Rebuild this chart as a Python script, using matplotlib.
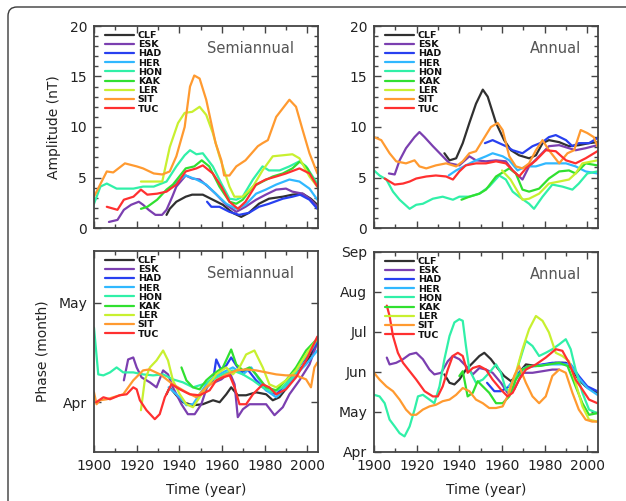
import matplotlib
matplotlib.use("Agg")
import matplotlib.pyplot as plt
from matplotlib.patches import FancyBboxPatch
from matplotlib.ticker import MultipleLocator, FixedLocator
import matplotlib.transforms as mtransforms

stations = ["CLF", "ESK", "HAD", "HER", "HON", "KAK", "LER", "SIT", "TUC"]
colors = ["#303030", "#7b3fb0", "#2840f0", "#30b8ff", "#30f0a8",
          "#30e030", "#c8f030", "#ff9a30", "#ff3030"]

# ---------------- Semiannual amplitude (nT) ----------------
sa_amp_years = {
    "CLF": [1934, 1935.5, 1938.6, 1943, 1946, 1951, 1955.7, 1960.4, 1965, 1969, 1972.6, 1977.3, 1982, 1988.5, 1993, 1997.8, 2001.6, 2004.7],
    "ESK": [1907, 1911, 1914, 1917.4, 1921, 1923, 1925.6, 1928.8, 1931.9, 1934, 1936.7, 1938.6, 1943, 1946, 1949.5, 1953.4, 1957, 1962, 1966.7, 1971, 1976, 1980.5, 1985.4, 1990, 1993, 1997.8, 2001.6, 2004.7],
    "HAD": [1953, 1955, 1958.8, 1963.5, 1968, 1972.6, 1977.3, 1982, 1988.5, 1993, 1996.6, 2001, 2004.7],
    "HER": [1935, 1939, 1943, 1948, 1952.6, 1957, 1962, 1966.7, 1971, 1976, 1980.5, 1985.4, 1991.6, 1996.3, 2001, 2004.7],
    "HON": [1900, 1903, 1906, 1910.6, 1918.5, 1923, 1928, 1934, 1938.6, 1942.5, 1945, 1948, 1951, 1955.7, 1959.7, 1963.5, 1966.7, 1969.7, 1974.5, 1979, 1982, 1987, 1991.6, 1996.3, 1999.4, 2004.7],
    "KAK": [1922, 1925, 1929.6, 1934, 1937, 1940, 1943, 1947, 1950.5, 1954, 1958.8, 1963.5, 1966.7, 1969.7, 1974.5, 1979, 1983.8, 1988.5, 1993, 1996.6, 2000, 2004.7],
    "LER": [1922, 1932, 1935.5, 1939.4, 1942.5, 1946, 1949.5, 1952.6, 1955.7, 1958.8, 1963.5, 1965.8, 1969.7, 1974.5, 1979, 1983.8, 1988.5, 1993, 1996.3, 2001, 2004.7],
    "SIT": [1900, 1906, 1909, 1914.5, 1920, 1923, 1928, 1932, 1935.5, 1938.6, 1942.5, 1945, 1947, 1949.5, 1952.6, 1957, 1959.7, 1961, 1963.5, 1966.7, 1971, 1976.8, 1979, 1981.5, 1985.4, 1991.6, 1994.7, 1997.8, 2001, 2004.7],
    "TUC": [1906, 1911, 1914, 1918.5, 1922, 1925, 1929.6, 1934, 1938.6, 1943, 1948, 1951, 1955.7, 1959.7, 1963.5, 1967.5, 1971, 1976, 1980.5, 1985.4, 1990, 1996.3, 2001, 2004.7],
}
sa_amp_vals = {
    "CLF": [1.3, 1.9, 2.6, 3.1, 3.3, 3.3, 2.8, 2.3, 1.5, 1.1, 1.5, 2.4, 2.9, 3.1, 3.3, 3.4, 2.9, 2.3],
    "ESK": [0.6, 0.8, 1.8, 2.3, 2.6, 2.3, 1.8, 1.3, 1.3, 1.8, 3.1, 4.1, 5.2, 4.9, 4.8, 4.1, 3.4, 2.3, 1.6, 2.1, 2.8, 3.3, 3.8, 3.9, 3.6, 3.4, 2.8, 2.1],
    "HAD": [2.6, 2.1, 2.1, 1.6, 1.3, 1.5, 2.1, 2.4, 2.9, 3.1, 3.3, 2.8, 1.9],
    "HER": [3.8, 4.6, 5.2, 4.8, 4.3, 3.4, 2.4, 1.9, 2.3, 3.4, 3.8, 4.3, 4.8, 4.6, 3.9, 2.8],
    "HON": [2.4, 4.1, 4.4, 3.9, 3.9, 4.1, 4.1, 4.6, 6.1, 7.2, 7.7, 7.3, 7.4, 6.1, 4.4, 2.9, 2.8, 3.1, 4.8, 6.1, 5.7, 5.7, 6.1, 6.6, 6.1, 4.4],
    "KAK": [1.9, 2.1, 2.8, 3.8, 4.3, 5.1, 5.9, 6.1, 6.7, 6.1, 4.1, 2.6, 2.4, 2.8, 4.1, 4.6, 5.1, 5.4, 5.9, 6.6, 5.9, 4.1],
    "LER": [4.6, 4.6, 8.0, 10.4, 11.4, 11.5, 12.0, 11.2, 9.4, 7.1, 4.1, 3.1, 3.1, 4.1, 5.7, 7.1, 7.2, 7.3, 6.9, 5.1, 4.1],
    "SIT": [3.1, 5.6, 5.5, 6.4, 6.1, 5.9, 5.4, 5.3, 5.6, 7.1, 10.0, 14.0, 15.1, 14.8, 12.7, 8.4, 6.7, 5.2, 5.2, 6.1, 6.7, 8.1, 8.4, 8.7, 11.0, 12.7, 12.0, 9.7, 7.4, 5.4],
    "TUC": [2.1, 1.8, 2.8, 3.1, 3.8, 3.3, 3.4, 3.6, 4.3, 5.6, 5.9, 6.2, 5.4, 4.1, 2.6, 1.9, 2.6, 4.3, 4.8, 5.1, 5.4, 5.9, 5.4, 4.1],
}

# ---------------- Annual amplitude (nT) ----------------
an_amp_years = {
    "CLF": [1933, 1935.4, 1938.5, 1941.6, 1944.7, 1947.8, 1951, 1953.3, 1957.2, 1961, 1964.2, 1968, 1972.7, 1975.9, 1979, 1982, 1986.8, 1991.4, 1996, 2000.8, 2004.7],
    "ESK": [1907, 1909.7, 1912, 1915, 1919, 1921.3, 1923.7, 1927.6, 1932.2, 1935.4, 1940, 1944.7, 1947.8, 1952.5, 1957.2, 1961.8, 1965, 1969.6, 1972.7, 1977.4, 1982, 1986.8, 1991.4, 1994.5, 1999.2, 2004.7],
    "HAD": [1952, 1955.6, 1958.7, 1961.8, 1965, 1969.6, 1974.3, 1979, 1982, 1985.2, 1990, 1993, 1996, 2000.8, 2004.7],
    "HER": [1935, 1938.5, 1943, 1947.8, 1952.5, 1955.6, 1960.3, 1963.4, 1967.3, 1971.2, 1975.9, 1980.5, 1985.2, 1990, 1994.5, 1999.2, 2004.7],
    "HON": [1900, 1902.6, 1905.8, 1908.9, 1912, 1916.7, 1919.8, 1922.9, 1927.6, 1932.2, 1937, 1940, 1944.7, 1949.4, 1954, 1958.7, 1961.8, 1965, 1968, 1972.7, 1975, 1979, 1983.6, 1988.3, 1993, 1996, 2000, 2004.7],
    "KAK": [1941, 1944.7, 1949.4, 1952.5, 1957.2, 1963.4, 1966.5, 1969.6, 1972.7, 1977.4, 1982, 1986.8, 1991.4, 1994.5, 1999.2, 2004.7],
    "LER": [1960, 1964, 1969.6, 1972.7, 1977.4, 1982, 1986.8, 1991.4, 1994.5, 1997.7, 2004.7],
    "SIT": [1900, 1903.4, 1907.3, 1910.4, 1915, 1919, 1921.3, 1924.5, 1929, 1933.8, 1938.5, 1941.6, 1944.7, 1947.8, 1951, 1954.8, 1958, 1960.3, 1963.4, 1966.5, 1969.6, 1972.7, 1975.9, 1979, 1982, 1986.8, 1990.7, 1993.8, 1996.9, 2000, 2003, 2004.7],
    "TUC": [1905, 1909.7, 1913.6, 1916.7, 1919.8, 1924.5, 1929, 1933.8, 1937, 1940, 1943, 1947.8, 1952.5, 1957.2, 1961.8, 1965, 1968, 1971.2, 1975.9, 1980.5, 1985.2, 1990, 1994.5, 1999.2, 2004.7],
}
an_amp_vals = {
    "CLF": [7.4, 6.7, 6.9, 8.4, 10.4, 12.3, 13.7, 13.0, 10.4, 8.7, 7.7, 7.2, 6.9, 7.2, 8.4, 8.7, 8.5, 8.1, 8.2, 8.4, 8.5],
    "ESK": [5.4, 5.3, 6.7, 7.9, 9.0, 9.5, 9.0, 8.1, 7.1, 6.4, 6.2, 7.1, 6.7, 6.6, 6.7, 6.6, 5.7, 4.8, 6.1, 7.1, 8.1, 8.2, 7.9, 7.7, 7.9, 8.2],
    "HAD": [8.4, 8.7, 8.4, 8.1, 7.7, 7.4, 8.1, 8.5, 9.0, 9.2, 8.7, 8.1, 8.4, 8.4, 8.9],
    "HER": [5.2, 5.7, 6.2, 6.7, 7.1, 7.4, 7.1, 6.7, 5.7, 6.1, 6.1, 6.4, 6.4, 6.4, 6.1, 5.6, 5.4],
    "HON": [5.7, 5.2, 4.8, 3.6, 2.8, 1.9, 2.3, 2.4, 2.9, 3.1, 2.8, 3.1, 3.1, 3.4, 4.1, 5.2, 4.8, 3.6, 3.1, 2.4, 1.9, 3.1, 4.3, 4.1, 3.8, 4.4, 5.4, 5.6],
    "KAK": [2.8, 3.1, 3.4, 3.8, 5.1, 5.9, 5.4, 3.8, 3.6, 3.9, 4.9, 5.6, 5.7, 5.4, 6.4, 6.2],
    "LER": [5.7, 4.8, 2.8, 2.9, 3.4, 4.4, 4.6, 4.8, 5.4, 6.4, 6.7],
    "SIT": [9.0, 8.7, 7.4, 6.6, 6.4, 6.7, 6.1, 5.9, 6.2, 6.4, 6.1, 6.6, 7.4, 7.6, 8.7, 10.0, 10.4, 9.7, 7.1, 6.1, 5.9, 6.4, 7.7, 8.7, 7.7, 6.4, 7.4, 7.7, 9.7, 9.4, 9.0, 8.1],
    "TUC": [4.9, 4.3, 4.4, 4.6, 4.9, 5.1, 5.2, 5.1, 4.8, 5.6, 6.2, 6.4, 6.4, 6.6, 6.4, 5.7, 5.1, 5.9, 6.7, 7.7, 7.6, 6.7, 6.4, 6.9, 7.6],
}

# ---------------- Semiannual phase (month number, Apr = 4) ----------------
sa_ph_years = {
    "CLF": [1934, 1935.5, 1938.6, 1941.7, 1946.4, 1951, 1955.8, 1958.9, 1962, 1964.3, 1967.4, 1971.3, 1976, 1980.7, 1983.8, 1986.9, 1991.6, 1996.3, 2001, 2004.7],
    "ESK": [1914, 1916, 1918.4, 1920, 1922.3, 1926.2, 1929.3, 1932.4, 1934.7, 1937, 1941, 1944, 1947.2, 1950.3, 1953.4, 1956.5, 1959.7, 1963.6, 1965.9, 1967.4, 1969.8, 1972.9, 1976.8, 1980.7, 1984.6, 1988.5, 1991.6, 1996.3, 2001, 2004.7],
    "HAD": [1953, 1955.8, 1957.3, 1959.7, 1962, 1964.3, 1966.7, 1969, 1972, 1976, 1980.7, 1985.4, 1990, 1994.7, 1999.4, 2004.7],
    "HER": [1935, 1940.2, 1943.3, 1946.4, 1949.5, 1952.6, 1955.8, 1960.4, 1965.1, 1969.8, 1973.7, 1977.6, 1980.7, 1985.4, 1990, 1994.7, 1999.4, 2004.7],
    "HON": [1900, 1902, 1904.4, 1907.5, 1910.6, 1913.7, 1918.4, 1923, 1927.7, 1932.4, 1937, 1941.7, 1946.4, 1951, 1955.8, 1960.4, 1965, 1969.8, 1974.5, 1979, 1983.8, 1988.5, 1993, 1997.8, 2002.5, 2004.7],
    "KAK": [1941, 1943.3, 1946.4, 1949.5, 1952.6, 1955.8, 1960.4, 1964.3, 1966.7, 1969.8, 1972.9, 1976, 1980.7, 1985.4, 1990, 1994.7, 1999.4, 2004.7],
    "LER": [1922, 1923.8, 1926.2, 1929.3, 1932.4, 1934.7, 1937, 1940.2, 1943.3, 1946.4, 1949.5, 1952.6, 1957.3, 1962, 1965.1, 1968.2, 1971.3, 1975.2, 1979.1, 1982.2, 1985.4, 1990, 1994.7, 1999.4, 2004.7],
    "SIT": [1900, 1901.2, 1902.8, 1906, 1909, 1913.7, 1918.4, 1923, 1926, 1931, 1937, 1943.3, 1948, 1952.6, 1957.3, 1962, 1966.7, 1971.3, 1976, 1980.7, 1985.4, 1990, 1994.7, 1999.4, 2001.7, 2003.3, 2004.7],
    "TUC": [1901, 1904.4, 1907.5, 1912, 1915.3, 1918.4, 1920, 1921.5, 1924.6, 1928.5, 1930.8, 1933.2, 1936.3, 1940.2, 1944.9, 1949.5, 1954.2, 1957.3, 1960.4, 1963.6, 1965.9, 1968.2, 1971.3, 1974.5, 1979.1, 1982.2, 1985.4, 1990, 1994.7, 1999.4, 2004.7],
}
sa_ph_vals = {
    "CLF": [4.08, 4.15, 4.07, 4.0, 3.97, 3.98, 4.02, 4.0, 4.08, 4.15, 4.07, 4.07, 4.1, 4.08, 4.02, 4.05, 4.18, 4.32, 4.45, 4.6],
    "ESK": [4.22, 4.43, 4.45, 4.35, 4.25, 4.2, 4.15, 4.32, 4.28, 4.15, 3.98, 3.88, 3.88, 3.98, 4.18, 4.2, 4.23, 4.3, 4.18, 3.85, 3.93, 3.98, 3.98, 3.98, 3.87, 3.95, 4.08, 4.22, 4.38, 4.6],
    "HAD": [4.15, 4.22, 4.43, 4.32, 4.37, 4.45, 4.37, 4.3, 4.33, 4.22, 4.12, 4.08, 4.18, 4.32, 4.45, 4.6],
    "HER": [4.15, 4.05, 3.97, 3.98, 4.08, 4.18, 4.25, 4.3, 4.35, 4.28, 4.35, 4.22, 4.12, 4.05, 4.15, 4.28, 4.38, 4.52],
    "HON": [4.75, 4.28, 4.27, 4.3, 4.35, 4.3, 4.3, 4.28, 4.27, 4.28, 4.23, 4.2, 4.15, 4.18, 4.23, 4.28, 4.32, 4.28, 4.22, 4.15, 4.1, 4.15, 4.25, 4.42, 4.55, 4.64],
    "KAK": [4.35, 4.22, 4.15, 4.13, 4.22, 4.28, 4.35, 4.53, 4.38, 4.32, 4.35, 4.28, 4.15, 4.12, 4.22, 4.35, 4.52, 4.64],
    "LER": [3.92, 4.22, 4.35, 4.42, 4.52, 4.42, 4.22, 4.08, 3.98, 3.95, 4.05, 4.15, 4.28, 4.35, 4.28, 4.35, 4.48, 4.52, 4.35, 4.18, 4.15, 4.22, 4.32, 4.48, 4.64],
    "SIT": [4.1, 3.98, 4.02, 4.03, 4.05, 4.08, 4.22, 4.32, 4.33, 4.28, 4.18, 4.1, 4.05, 4.15, 4.22, 4.28, 4.32, 4.33, 4.32, 4.3, 4.28, 4.27, 4.27, 4.23, 4.15, 4.35, 4.4],
    "TUC": [4.0, 4.05, 4.03, 4.07, 4.08, 4.15, 4.13, 4.02, 3.92, 3.83, 3.88, 4.05, 4.18, 4.13, 4.08, 4.07, 4.12, 4.22, 4.25, 4.27, 4.15, 3.98, 3.98, 4.08, 4.18, 4.15, 4.08, 4.13, 4.25, 4.42, 4.66],
}

# ---------------- Annual phase (month number, Apr = 4 ... Sep = 9) ----------------
an_ph_years = {
    "CLF": [1933, 1935.4, 1937.7, 1940, 1943.1, 1946.3, 1949.4, 1951.7, 1954.8, 1957.9, 1961, 1964.2, 1968, 1971.2, 1975.9, 1980.5, 1985.2, 1990, 1993, 1996, 1999.2, 2004.7],
    "ESK": [1906, 1907.3, 1910.4, 1913.6, 1916.7, 1919.8, 1922.9, 1926, 1928.3, 1931.5, 1934.6, 1936.9, 1940, 1943.1, 1946.3, 1949.4, 1952.5, 1955.6, 1959.5, 1962.6, 1965.7, 1969.6, 1974.3, 1979, 1983.6, 1986.8],
    "HAD": [1953, 1956.4, 1959.5, 1963.4, 1966.5, 1970.4, 1974.3, 1979, 1983.6, 1988.3, 1992.2, 1996, 2000, 2004.7],
    "HER": [1963, 1966.5, 1970.4, 1975.9, 1982, 1988.3, 1992.2, 1996, 2000, 2004.7],
    "HON": [1900, 1902.6, 1905, 1907.3, 1909.7, 1912, 1914.3, 1916.7, 1919, 1920.6, 1922.9, 1926, 1928.3, 1930.7, 1933, 1935.4, 1937.7, 1940, 1941.6, 1943.1, 1944.7, 1947.8, 1951, 1954, 1957.2, 1959.5, 1961.8, 1965, 1968, 1971.2, 1974.3, 1977.4, 1980.5, 1983.6, 1986.8, 1989.9, 1992.2, 1994.5, 1997.7, 2000.8, 2004.7],
    "KAK": [1940, 1941.6, 1943.9, 1946.3, 1948.6, 1951, 1954, 1957.2, 1960.3, 1963.4, 1966.5, 1969.6, 1972.7, 1977.4, 1982, 1986.8, 1990.7, 1994.5, 1997.7, 2000.8, 2004.7],
    "LER": [1963, 1966.5, 1969.6, 1972.7, 1975.9, 1979, 1982, 1985.2, 1988.3, 1991.4, 1994.5, 1997.7, 2000.8, 2004.7],
    "SIT": [1900, 1902.6, 1905.8, 1908.9, 1912, 1915, 1917.4, 1919.8, 1922.9, 1926, 1929, 1932.2, 1935.4, 1938.5, 1941.6, 1944.7, 1947.8, 1951, 1954, 1957.2, 1960.3, 1963.4, 1965.7, 1968, 1971.2, 1974.3, 1977.4, 1980.5, 1983.6, 1986.8, 1989.9, 1993, 1996, 1999.2, 2002.3, 2004.7],
    "TUC": [1906, 1907.3, 1908.9, 1911.2, 1913.6, 1916.7, 1919.8, 1923.7, 1927.6, 1929.9, 1932.2, 1934.6, 1936.9, 1939.3, 1941.6, 1943.9, 1946.3, 1949.4, 1952.5, 1955.6, 1959.5, 1962.6, 1965, 1968, 1971.2, 1975.9, 1980.5, 1985.2, 1988.3, 1991.4, 1994.5, 1997.7, 2000.8, 2004.7],
}
an_ph_vals = {
    "CLF": [5.94, 5.73, 5.69, 5.81, 6.06, 6.23, 6.4, 6.48, 6.32, 6.1, 5.9, 5.77, 5.98, 6.19, 6.15, 6.19, 6.23, 6.23, 6.06, 5.81, 5.64, 5.48],
    "ESK": [6.36, 6.19, 6.23, 6.32, 6.44, 6.48, 6.32, 6.06, 5.94, 5.98, 6.27, 6.4, 6.32, 6.15, 5.94, 6.1, 6.06, 5.98, 5.73, 5.48, 5.56, 5.98, 5.98, 6.02, 6.06, 6.06],
    "HAD": [5.73, 5.52, 5.52, 5.64, 5.9, 6.1, 6.15, 6.19, 6.23, 6.23, 6.19, 5.9, 5.64, 5.52],
    "HER": [5.64, 5.85, 6.1, 6.15, 6.19, 6.19, 6.19, 5.85, 5.6, 5.43],
    "HON": [5.43, 5.39, 5.22, 4.81, 4.64, 4.47, 4.39, 4.64, 5.06, 5.39, 5.43, 5.31, 5.22, 5.64, 6.32, 6.9, 7.24, 7.32, 7.28, 6.65, 6.06, 5.73, 5.81, 5.98, 6.19, 5.98, 5.56, 5.52, 6.23, 6.78, 6.65, 6.4, 6.48, 6.57, 6.69, 6.82, 6.57, 6.06, 5.48, 5.06, 4.97],
    "KAK": [5.9, 6.02, 5.39, 5.48, 5.77, 5.64, 5.48, 5.22, 5.22, 5.39, 5.81, 6.06, 6.15, 6.15, 6.19, 6.23, 6.15, 5.64, 5.22, 4.93, 4.97],
    "LER": [5.5, 5.98, 6.57, 7.07, 7.4, 7.28, 6.99, 6.48, 6.4, 6.27, 5.73, 5.14, 4.81, 4.76],
    "SIT": [5.98, 5.81, 5.64, 5.52, 5.31, 5.06, 4.93, 4.93, 5.06, 5.14, 5.18, 5.27, 5.31, 5.43, 5.6, 5.52, 5.31, 5.22, 5.1, 5.1, 5.14, 5.48, 5.9, 6.15, 5.73, 5.39, 5.22, 5.39, 5.9, 6.06, 5.98, 5.48, 5.06, 4.81, 4.76, 4.76],
    "TUC": [7.66, 7.4, 6.9, 6.48, 6.23, 6.02, 5.81, 5.52, 5.39, 5.39, 5.64, 6.06, 6.4, 6.48, 6.4, 5.98, 6.1, 6.15, 6.06, 5.81, 5.56, 5.39, 5.48, 5.81, 6.06, 6.19, 6.36, 6.57, 6.53, 6.23, 5.81, 5.56, 5.31, 5.22],
}

amp_ticks = [0, 5, 10, 15, 20]
xticks = [1900, 1920, 1940, 1960, 1980, 2000]
sa_ph_ticks = [4, 5]
sa_ph_labels = ["Apr", "May"]
an_ph_ticks = [4, 5, 6, 7, 8, 9]
an_ph_labels = ["Apr", "May", "Jun", "Jul", "Aug", "Sep"]

W, H = 626, 501
fig = plt.figure(figsize=(W / 100, H / 100), dpi=100)
fig.patch.set_facecolor("white")

# card border
card = FancyBboxPatch((8, -100), 700, (H - 7) + 100, boxstyle="round,pad=0,rounding_size=9",
                      transform=mtransforms.IdentityTransform(), facecolor="none",
                      edgecolor="#3a3a3a", linewidth=1.0)
fig.patches.append(card)


def add_ax(left, top, right, bottom):
    return fig.add_axes([left / W, 1 - bottom / H, (right - left) / W, (bottom - top) / H])


ax_tl = add_ax(94, 26, 318, 228)
ax_tr = add_ax(374, 26, 598, 228)
ax_bl = add_ax(94, 251, 318, 452)
ax_br = add_ax(374, 252, 598, 452)

panels = [
    (ax_tl, sa_amp_years, sa_amp_vals, "Semiannual", 0.70),
    (ax_tr, an_amp_years, an_amp_vals, "Annual", 0.81),
    (ax_bl, sa_ph_years, sa_ph_vals, "Semiannual", 0.70),
    (ax_br, an_ph_years, an_ph_vals, "Annual", 0.81),
]

for ax, yrs, vals, title, tx in panels:
    for name, col in zip(stations, colors):
        ax.plot(yrs[name], vals[name], color=col, lw=1.6, label=name, solid_capstyle="round")
    ax.set_xlim(1900, 2005)
    ax.xaxis.set_major_locator(FixedLocator(xticks))
    ax.xaxis.set_minor_locator(MultipleLocator(10))
    for s in ax.spines.values():
        s.set_color("#444444")
        s.set_linewidth(1.3)
    ax.tick_params(which="both", direction="in", top=True, right=True, colors="#444444",
                   labelcolor="#222222", labelsize=10, width=1.0)
    ax.tick_params(which="major", length=5, pad=5)
    ax.tick_params(which="minor", length=3)
    ax.text(tx, 0.888, title, transform=ax.transAxes, ha="center", va="center",
            fontsize=10.5, color="#555555")
    leg = ax.legend(loc="upper left", bbox_to_anchor=(0.05, 0.975), frameon=False,
                    prop={"size": 6.8, "weight": "bold"}, handlelength=3.0,
                    handletextpad=0.45, labelspacing=0.02, borderpad=0.0, borderaxespad=0.0)
    for t in leg.get_texts():
        t.set_color("#111111")

for ax in (ax_tl, ax_tr):
    ax.set_ylim(0, 20)
    ax.yaxis.set_major_locator(FixedLocator(amp_ticks))
    ax.yaxis.set_minor_locator(MultipleLocator(1))
    ax.tick_params(axis="x", labelbottom=False)

ax_tl.set_ylabel("Amplitude (nT)", fontsize=10, color="#222222", labelpad=6)

ax_bl.set_ylim(3.5, 5.52)
ax_bl.yaxis.set_major_locator(FixedLocator(sa_ph_ticks))
ax_bl.set_yticklabels(sa_ph_labels)
ax_bl.yaxis.set_minor_locator(FixedLocator([]))
ax_bl.set_ylabel("Phase (month)", fontsize=10, color="#222222", labelpad=6)

ax_br.set_ylim(4, 9)
ax_br.yaxis.set_major_locator(FixedLocator(an_ph_ticks))
ax_br.set_yticklabels(an_ph_labels)
ax_br.yaxis.set_minor_locator(FixedLocator([]))

for ax in (ax_bl, ax_br):
    ax.set_xlabel("Time (year)", fontsize=10, color="#222222", labelpad=7)

fig.savefig("out.png", dpi=100, facecolor="white")
